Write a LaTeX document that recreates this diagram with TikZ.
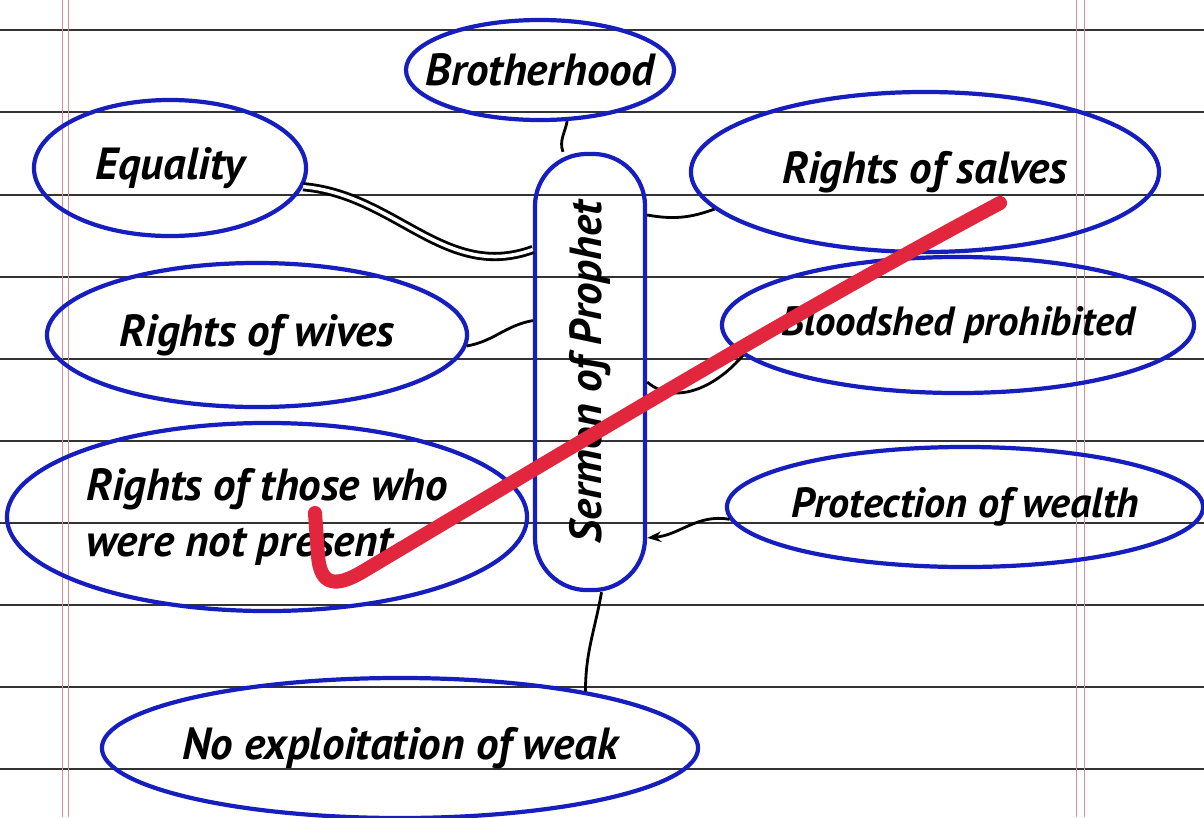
\documentclass[tikz,border=0pt]{standalone}
\usepackage{fontspec}
\setmainfont{PT Sans}
\usetikzlibrary{shapes.geometric,arrows.meta}

\definecolor{pen}{RGB}{22,30,190}
\definecolor{tick}{RGB}{226,38,62}
\definecolor{margin}{RGB}{222,140,150}

\begin{document}
\begin{tikzpicture}[x=0.025cm,y=-0.025cm]

      \useasboundingbox (0,0) rectangle (1204,817);
      \fill[white] (0,0) rectangle (1204,817);

      % ruled paper
      \foreach \y in {30,112,195,277,359,441,523,605,687,769}
        \draw[black!80,line width=0.9pt] (0,\y) -- (1204,\y);
      \foreach \x in {62,68,1076,1084}
        \draw[margin,line width=0.5pt] (\x,0) -- (\x,817);

      \begin{scope}[every node/.style={ellipse,draw=pen,line width=3pt,inner ysep=0pt,inner xsep=-2cm,
          font=\fontsize{32}{40}\selectfont\bfseries\itshape}]
        \node[minimum width=6.7cm,minimum height=2.5cm]    (brotherhood) at (540,70)  {Brotherhood};
        \node[minimum width=6.8cm,minimum height=3.4cm]    (equality)    at (170,168) {Equality};
        \node[minimum width=10.5cm,minimum height=3.6cm]   (wives)       at (257,335) {Rights of wives};
        \node[minimum width=13cm,minimum height=4.7cm,align=left]
                                                           (absent)      at (267,517) {Rights of those who\\were not present};
        \node[minimum width=14.9cm,minimum height=3.5cm]   (weak)        at (400,748) {No exploitation of weak};
        \node[minimum width=11.7cm,minimum height=4cm]     (slaves)      at (925,172) {Rights of salves};
        \node[minimum width=11.8cm,minimum height=3.4cm,font=\fontsize{29}{36}\selectfont\bfseries\itshape]
                                                           (bloodshed)   at (958,325) {Bloodshed prohibited};
        \node[minimum width=11.9cm,minimum height=3cm,font=\fontsize{30}{36}\selectfont\bfseries\itshape]
                                                           (wealth)      at (965,507) {Protection of wealth};
        \node[rectangle,rounded corners=1.3cm,inner xsep=0pt,minimum width=2.75cm,minimum height=10.9cm]
                                                           (sermon)      at (590,372) {\rotatebox{90}{Sermon of Prophet}};
      \end{scope}

      \begin{scope}[every edge/.style={draw,line width=2pt}]
        \path (brotherhood.-62) edge[out=-100,in=110] (sermon.97);
        \path (equality.-8)     edge[out=-5,in=200,double,double distance=2.5pt] (sermon.115);
        \path (wives.-3)        edge[out=10,in=190] (sermon.138);
        \path (sermon.70)       edge[out=-10,in=200] (slaves.190);
        \path (sermon.-10)      edge[out=-40,in=230] (bloodshed.188);
        \path (wealth.183)      edge[out=170,in=5,-{Stealth[length=10pt]}] (sermon.-71);
        \path (sermon.-87)      edge[out=-100,in=90] (weak.17);
      \end{scope}

      % red tick
      \draw[tick,line width=10pt,line cap=round,line join=round]
        (315,513) -- (318,555) .. controls (320,588) and (338,586) .. (362,572)
        .. controls (600,430) and (800,310) .. (1000,203);

    \end{tikzpicture}
\end{document}
